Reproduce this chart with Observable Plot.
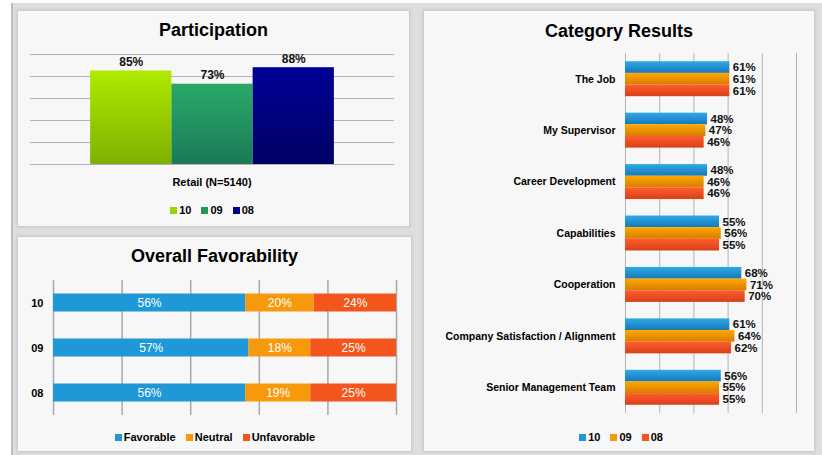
<!DOCTYPE html>
<html><head><meta charset="utf-8">
<script src="https://cdn.jsdelivr.net/npm/d3@7"></script>
<script src="https://cdn.jsdelivr.net/npm/@observablehq/plot@0.6"></script>
<style>
body{margin:0;background:#fff;font-family:"Liberation Sans",Arial,sans-serif;}
#root{position:relative;width:822px;height:455px;overflow:hidden;background:#fff;}
.bg{position:absolute;left:11px;top:3px;width:811px;height:452px;background:#dedede;border-left:2px solid #bdbdbd;box-sizing:border-box;}
.panel{position:absolute;background:#f7f7f7;border:1px solid #cdcdcd;box-sizing:border-box;box-shadow:0 0 3px rgba(0,0,0,0.12);}
.title{position:absolute;font-weight:bold;font-size:18px;line-height:18px;color:#000;text-align:center;white-space:nowrap;}
.plot{position:absolute;}
.lbl{position:absolute;font-weight:bold;font-size:11px;line-height:12px;text-align:center;white-space:nowrap;}
.legend{position:absolute;font-size:11px;line-height:12px;font-weight:bold;display:flex;justify-content:center;white-space:nowrap;}
.legend .item{display:flex;align-items:center;margin:0 5px;}
.legend .sw{display:inline-block;width:7px;height:7px;margin-right:2px;}
</style></head>
<body>
<div id="root">
  <div class="bg"></div>
  <div class="panel" style="left:17px;top:10px;width:393px;height:217px;"></div>
  <div class="panel" style="left:17px;top:236px;width:395px;height:216px;"></div>
  <div class="panel" style="left:423px;top:10px;width:392px;height:442px;"></div>
  <div class="title" style="left:17px;top:21px;width:393px;">Participation</div>
  <div class="title" style="left:17px;top:247px;width:395px;">Overall Favorability</div>
  <div class="title" style="left:423px;top:22px;width:392px;">Category Results</div>
  <div id="p1" class="plot" style="left:17px;top:40px;"></div>
  <div id="xlabel1" class="lbl" style="left:112px;top:176px;width:200px;"></div>
  <div id="leg1" class="legend" style="left:112px;top:204px;width:200px;"></div>
  <div id="p2" class="plot" style="left:17px;top:270px;"></div>
  <div id="leg2" class="legend" style="left:65px;top:431px;width:300px;"></div>
  <div id="p3" class="plot" style="left:423px;top:45px;"></div>
  <div id="leg3" class="legend" style="left:521px;top:431px;width:200px;"></div>
</div>
<script>
// ---------- data ----------
const years = ["10", "09", "08"];
const participation = [85, 73, 88];
const participationGroup = "Retail (N=5140)";

const favCategories = ["Favorable", "Neutral", "Unfavorable"];
const favorable = [56, 57, 56];
const neutral = [20, 18, 19];
const unfavorable = [24, 25, 25];

const categories = ["The Job", "My Supervisor", "Career Development", "Capabilities",
  "Cooperation", "Company Satisfaction / Alignment", "Senior Management Team"];
const results10 = [61, 48, 48, 55, 68, 61, 56];
const results09 = [61, 47, 46, 56, 71, 64, 55];
const results08 = [61, 46, 46, 55, 70, 62, 55];

const gridTicks = [0, 20, 40, 60, 80, 100];

// ---------- colours ----------
const partColors = {"10": ["#b0ea00", "#7fb000"], "09": ["#28aa68", "#1b7a57"], "08": ["#000096", "#000066"]};
const partFlat = {"10": "#9ad400", "09": "#22955f", "08": "#00008a"};
const favColors = ["#1f98d8", "#f7990c", "#f3561d"];
const catColors = {"10": ["#2eaae8", "#1878b8"], "09": ["#ffa800", "#d97c00"], "08": ["#ff5e2c", "#d8401a"]};
const catFlat = {"10": "#1f98d8", "09": "#f7990c", "08": "#f3561d"};

const font = '"Liberation Sans", Arial, sans-serif';

function addGradients(svg, defsSpec) {
  const s = d3.select(svg);
  const defs = s.insert("defs", ":first-child");
  for (const [id, top, bottom] of defsSpec) {
    const g = defs.append("linearGradient").attr("id", id).attr("x1", 0).attr("y1", 0).attr("x2", 0).attr("y2", 1);
    g.append("stop").attr("offset", "0%").attr("stop-color", top);
    g.append("stop").attr("offset", "100%").attr("stop-color", bottom);
  }
}

// ---------- Participation ----------
const partData = years.map((y, i) => ({year: y, value: participation[i]}));
const p1 = Plot.plot({
  width: 393, height: 135,
  marginTop: 14, marginBottom: 11, marginLeft: 13, marginRight: 16,
  style: {background: "transparent", fontFamily: font, fontSize: "12px"},
  x: {domain: years, paddingInner: 0, paddingOuter: 0.74, round: false, axis: null},
  y: {domain: [0, 100], axis: null},
  color: {domain: years, range: years.map(y => `url(#gp${y})`)},
  marks: [
    Plot.ruleY(gridTicks, {stroke: "#b4b4b4", strokeWidth: 1}),
    Plot.barY(partData, {x: "year", y: "value", fill: "year"}),
    Plot.text(partData, {x: "year", y: "value", text: d => d.value + "%", dy: -9, fontSize: 12, fontWeight: "bold", fill: "#111"})
  ]
});
addGradients(p1, years.map(y => ["gp" + y, partColors[y][0], partColors[y][1]]));
document.getElementById("p1").appendChild(p1);
document.getElementById("xlabel1").textContent = participationGroup;

function legend(el, names, colors) {
  const root = document.getElementById(el);
  names.forEach((n, i) => {
    const it = document.createElement("span");
    it.className = "item";
    const sw = document.createElement("span");
    sw.className = "sw";
    sw.style.background = colors[i];
    it.appendChild(sw);
    it.appendChild(document.createTextNode(n));
    root.appendChild(it);
  });
}
legend("leg1", years, years.map(y => partFlat[y]));

// ---------- Overall Favorability ----------
const favSeries = [favorable, neutral, unfavorable];
const favData = [];
years.forEach((y, i) => favCategories.forEach((c, k) => favData.push({year: y, cat: c, value: favSeries[k][i]})));
const p2 = Plot.plot({
  width: 393, height: 155,
  marginTop: 10, marginBottom: 10, marginLeft: 36, marginRight: 14,
  style: {background: "transparent", fontFamily: font, fontSize: "11px", fontWeight: "bold", color: "#000"},
  x: {domain: [0, 100], axis: null},
  y: {domain: years, paddingInner: 0.6, paddingOuter: 0.3, round: false, label: null, tickSize: 0, tickPadding: 10},
  color: {domain: favCategories, range: favColors},
  marks: [
    Plot.ruleX(gridTicks, {stroke: "#a8a8a8", strokeWidth: 1.5}),
    Plot.barX(favData, Plot.stackX({y: "year", x: "value", fill: "cat"})),
    Plot.text(favData, Plot.stackX({y: "year", x: "value", z: "cat", text: d => d.value + "%", fill: "white", fontSize: 12, fontWeight: "normal"}))
  ]
});
document.getElementById("p2").appendChild(p2);
legend("leg2", favCategories, favColors);

// ---------- Category Results ----------
const catSeries = {"10": results10, "09": results09, "08": results08};
const catData = [];
categories.forEach((c, i) => years.forEach(y => catData.push({cat: c, year: y, value: catSeries[y][i]})));
const p3H = 380, p3Top = 8, p3Bottom = 12, padIn = 0.32;
const third = ((p3H - p3Top - p3Bottom) / categories.length) * (1 - padIn) / 3;
const catMarks = [Plot.ruleX(gridTicks, {stroke: "#b4b4b4", strokeWidth: 1})];
years.forEach((y, k) => {
  const sub = catData.filter(d => d.year === y);
  catMarks.push(Plot.barX(sub, {x: "value", y: "cat", fill: `url(#gc${y})`,
    insetTop: k * third, insetBottom: (2 - k) * third}));
});
years.forEach((y, k) => {
  const sub = catData.filter(d => d.year === y);
  catMarks.push(Plot.text(sub, {x: "value", y: "cat", text: d => d.value + "%", dy: (k - 1) * third, dx: 3,
    textAnchor: "start", fontSize: 11.5, fontWeight: "bold", fill: "#111"}));
});
const p3 = Plot.plot({
  width: 392, height: p3H,
  marginTop: p3Top, marginBottom: p3Bottom, marginLeft: 202, marginRight: 19,
  style: {background: "transparent", fontFamily: font, fontSize: "10.5px", fontWeight: "bold", color: "#000"},
  x: {domain: [0, 100], axis: null},
  y: {domain: categories, paddingInner: padIn, paddingOuter: padIn / 2, round: false, label: null, tickSize: 0, tickPadding: 10},
  marks: catMarks
});
addGradients(p3, years.map(y => ["gc" + y, catColors[y][0], catColors[y][1]]));
document.getElementById("p3").appendChild(p3);
legend("leg3", years, years.map(y => catFlat[y]));
</script>
</body></html>
